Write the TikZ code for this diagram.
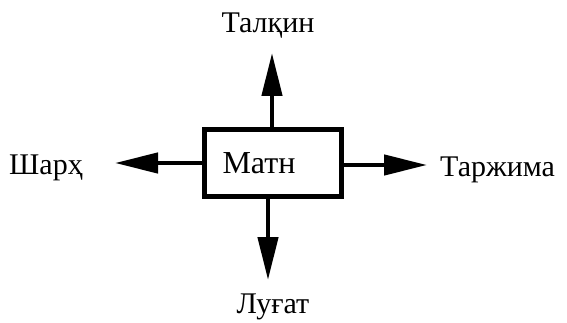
\documentclass[tikz,border=0pt]{standalone}
\usepackage{fontspec}
\setmainfont{Liberation Serif}
\usetikzlibrary{arrows.meta}
\begin{document}
\begin{tikzpicture}[x=1pt,y=-1pt,
  lbl/.style={inner sep=0pt,font=\fontsize{30}{33}\selectfont},
  conn/.style={line width=4.5pt,-{Triangle[length=43pt,width=20pt]}},
  boxst/.style={draw,line width=4.5pt,minimum width=137pt,minimum height=67pt,inner sep=0pt,font=\fontsize{32}{35}\selectfont}]
\useasboundingbox (0,0) rectangle (567,323);
\node[boxst] (m) at (273,163) {Матн\kern28pt\relax};
\coordinate (tU) at (272,53);
\coordinate (tL) at (115,163);
\coordinate (tR) at (427,165);
\coordinate (tD) at (268,280);
\draw[conn] (m.north -| tU) -- (tU);
\draw[conn] (m.west |- tL) -- (tL);
\draw[conn] (m.east |- tR) -- (tR);
\draw[conn] (m.south -| tD) -- (tD);
\node[lbl,anchor=base] (a) at (268,33) {Талқин};
\node[lbl,anchor=base west] (b) at (9,175) {Шарҳ};
\node[lbl,anchor=base west] (c) at (440,177) {Таржима};
\node[lbl,anchor=base] (d) at (273,313) {Луғат};
\end{tikzpicture}
\end{document}
